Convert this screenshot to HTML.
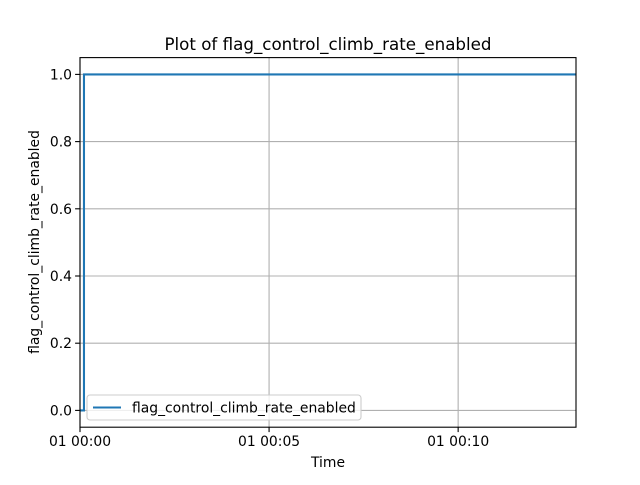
<!DOCTYPE html>
<html><head><meta charset="utf-8"><style>
body{margin:0;background:#fff;}
svg text{font-family:"DejaVu Sans","Liberation Sans",sans-serif;fill:#000;}
</style></head><body>
<svg id="chart" width="640" height="480" viewBox="0 0 640 480">
<rect width="640" height="480" fill="#fff"/>
<g id="grid"></g>
<g id="series"></g>
<rect x="80" y="57.6" width="496" height="369.6" fill="none" stroke="#000" stroke-width="1.1"/>
<g id="ticks"></g>
<text x="328" y="50" text-anchor="middle" font-size="16.7">Plot of flag_control_climb_rate_enabled</text>
<text x="328" y="467" text-anchor="middle" font-size="13.9">Time</text>
<text transform="translate(39,242) rotate(-90)" text-anchor="middle" font-size="13.9">flag_control_climb_rate_enabled</text>
<g>
<rect x="87" y="395" width="274" height="25" rx="3" fill="#fff" fill-opacity="0.8" stroke="#ccc" stroke-width="1.1"/>
<line x1="93" y1="407.5" x2="121" y2="407.5" stroke="#1f77b4" stroke-width="2.1"/>
<text x="132" y="412.5" font-size="13.9">flag_control_climb_rate_enabled</text>
</g>
</svg>
<script>
const times = [0, 6.3, 787];          // seconds since 01 00:00
const values = [0, 1, 1];
const xTickVals = [0, 300, 600];
const xTickLabels = ["01 00:00", "01 00:05", "01 00:10"];
const yTickVals = [0, 0.2, 0.4, 0.6, 0.8, 1.0];
const yTickLabels = ["0.0", "0.2", "0.4", "0.6", "0.8", "1.0"];

const L=80,R=576,T=57.6,B=427.2;
const xMin=0,xMax=787,yMin=-0.05,yMax=1.05;
const xs=v=>L+(v-xMin)/(xMax-xMin)*(R-L);
const ys=v=>B-(v-yMin)/(yMax-yMin)*(B-T);
const NS="http://www.w3.org/2000/svg";
const grid=document.getElementById('grid'),ticks=document.getElementById('ticks'),ser=document.getElementById('series');
function mk(tag,attrs,parent){const e=document.createElementNS(NS,tag);for(const k in attrs)e.setAttribute(k,attrs[k]);parent.appendChild(e);return e;}

xTickVals.forEach((v,i)=>{
  const x=xs(v);
  const g=mk('line',{x1:x,x2:x,y1:T,y2:B,stroke:'#b0b0b0','stroke-width':1.1},grid);
  
  
  const t=mk('line',{x1:x,x2:x,y1:B,y2:B+4.9,stroke:'#000','stroke-width':1.1},ticks);
  
  
  const l=mk('text',{x:x,y:B+19,'text-anchor':'middle','font-size':13.9},ticks);
  l.textContent=xTickLabels[i];
  
  
});
yTickVals.forEach((v,i)=>{
  const y=ys(v);
  const g=mk('line',{x1:L,x2:R,y1:y,y2:y,stroke:'#b0b0b0','stroke-width':1.1},grid);
  
  
  const t=mk('line',{x1:L-4.9,x2:L,y1:y,y2:y,stroke:'#000','stroke-width':1.1},ticks);
  
  
  const l=mk('text',{x:L-8,y:y+5,'text-anchor':'end','font-size':13.9},ticks);
  l.textContent=yTickLabels[i];
  
  
});
let d='';
times.forEach((t,i)=>{
  if(i===0) d+=`M${xs(t)},${ys(values[i])}`;
  else d+=` L${xs(t)},${ys(values[i-1])} L${xs(t)},${ys(values[i])}`;
});
const p=mk('path',{d:d,fill:'none',stroke:'#1f77b4','stroke-width':2.1},ser);


</script>
</body></html>
